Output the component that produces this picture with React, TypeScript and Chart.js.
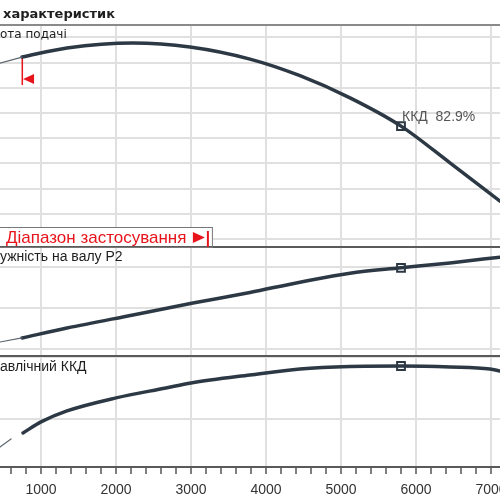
import React, { useEffect, useRef } from "react";
import { Chart, registerables } from "chart.js";

Chart.register(...registerables);

// ---------- data ----------
const X_MIN = 453;
const X_MAX = 7120;
const axisTicks = [600, 800, 1000, 1200, 1400, 1600, 1800, 2000, 2200, 2400, 2600, 2800, 3000, 3200, 3400, 3600, 3800, 4000, 4200, 4400, 4600, 4800, 5000, 5200, 5400, 5600, 5800, 6000, 6200, 6400, 6600, 6800, 7000];

const headGrid = [10, 15, 20, 25, 30, 35, 40, 45, 50];
const powerGrid = [20, 30, 40];
const effGrid = [40, 80];

const headThinQ = [453, 747];
const headThinH = [44.9, 46.1];
const headQ = [747, 1346, 2226, 2986, 3786, 4453, 5120, 5800, 6453, 7120];
const headH = [46.1, 47.9, 48.9, 48.1, 45.7, 42.4, 38.0, 32.4, 25.1, 17.5];

const powerThinQ = [453, 747];
const powerThinP = [21.7, 22.7];
const powerQ = [747, 1346, 2226, 3026, 3786, 4453, 5120, 5800, 6453, 7120];
const powerP = [22.7, 25.1, 28.3, 31.2, 33.8, 36.3, 38.5, 39.8, 41.0, 42.4];

const effThinQ = [453, 600];
const effThinE = [21.9, 27.1];
const effQ = [760, 1000, 1346, 2000, 2666, 3000, 3786, 4453, 5120, 5800, 6453, 6986, 7120];
const effE = [31.0, 38.1, 45.2, 53.6, 60.0, 63.2, 68.4, 72.3, 73.9, 74.2, 73.6, 72.3, 71.0];

const bepQ = 5800;
const bepHead = 32.4;
const bepPower = 39.8;
const bepEff = 74.2;
const bepLabel = "ККД  82.9%";

const rangeMinQ = 747;
const rangeMaxQ = 3225;
const rangeLabel = "Діапазон застосування";

const titleText = "характеристик";
const headLabel = "ота подачі";
const powerLabel = "ужність на валу P2";
const effLabel = "авлічний ККД";

// ---------- styles ----------
const CURVE = "#2c3945";
const THIN = "#5d6770";
const GRID = "#e0e0e0";
const RED = "#e8141c";
const DARK = "#5a5a5a";

const pts = (xs: number[], ys: number[]) => xs.map((x, i) => ({ x, y: ys[i] }));

const curve = (data: any, yAxisID: string, thin = false) => ({
  type: "line" as const,
  data,
  xAxisID: "x",
  yAxisID,
  borderColor: thin ? THIN : CURVE,
  borderWidth: thin ? 1.2 : 3.5,
  pointRadius: 0,
  pointHoverRadius: 0,
  cubicInterpolationMode: "monotone" as const,
  fill: false,
  borderCapStyle: "round" as const,
});

const marker = (y: number, yAxisID: string) => ({
  type: "line" as const,
  data: [{ x: bepQ, y }],
  xAxisID: "x",
  yAxisID,
  showLine: false,
  pointStyle: "rect" as const,
  pointRadius: 5.5,
  pointBorderWidth: 2,
  pointBackgroundColor: "#ffffff",
  pointBorderColor: CURVE,
});

const yScale = (min: number, max: number, grid: number[], weight: number, stackWeight: number) => ({
  type: "linear" as const,
  position: "left" as const,
  stack: "panels",
  stackWeight,
  weight,
  min,
  max,
  afterBuildTicks: (s: any) => {
    s.ticks = grid.map((v) => ({ value: v }));
  },
  afterFit: (s: any) => {
    s.width = 0;
  },
  grid: { color: GRID, lineWidth: 2, drawTicks: false },
  border: { display: false },
  ticks: { display: false },
});

const decorPlugin = {
  id: "decor",
  beforeDatasetsDraw(chart: any) {
    const ctx = chart.ctx;
    const { left, right } = chart.chartArea;
    const x = chart.scales.x;
    const yH = chart.scales.yH;
    const yP = chart.scales.yP;
    ctx.save();
    // title underline
    ctx.strokeStyle = "#8a8a8a";
    ctx.lineWidth = 2;
    ctx.beginPath();
    ctx.moveTo(left, yH.top);
    ctx.lineTo(right, yH.top);
    ctx.stroke();
    // panel separators
    ctx.strokeStyle = DARK;
    ctx.beginPath();
    ctx.moveTo(left, yH.bottom);
    ctx.lineTo(right, yH.bottom);
    ctx.moveTo(left, yP.bottom);
    ctx.lineTo(right, yP.bottom);
    ctx.stroke();

    // application range box
    const rx = x.getPixelForValue(rangeMaxQ);
    const boxTop = yH.bottom - 20;
    ctx.fillStyle = "#ffffff";
    ctx.fillRect(left - 2, boxTop, rx + 5 - left + 2, yH.bottom - boxTop - 1);
    ctx.strokeStyle = "#777";
    ctx.lineWidth = 1;
    ctx.strokeRect(left - 2.5, boxTop + 0.5, rx + 5 - left + 2, yH.bottom - boxTop);
    ctx.fillStyle = RED;
    ctx.font = "17px 'Liberation Sans', Arial, sans-serif";
    ctx.textBaseline = "alphabetic";
    ctx.textAlign = "left";
    ctx.fillText(rangeLabel, left + 6, yH.bottom - 4);
    ctx.beginPath();
    ctx.moveTo(rx - 15, boxTop + 5);
    ctx.lineTo(rx - 15, boxTop + 16);
    ctx.lineTo(rx - 3, boxTop + 10.5);
    ctx.closePath();
    ctx.fill();
    ctx.fillRect(rx - 1, boxTop + 4, 2, yH.bottom - boxTop - 4);

    // left range marker
    const lx = x.getPixelForValue(rangeMinQ);
    const ly = yH.getPixelForValue(headThinH[headThinH.length - 1]);
    ctx.fillRect(lx - 0.5, ly, 1.5, 28);
    ctx.beginPath();
    ctx.moveTo(lx + 1, ly + 22);
    ctx.lineTo(lx + 12, ly + 17);
    ctx.lineTo(lx + 12, ly + 27);
    ctx.closePath();
    ctx.fill();
    ctx.restore();
  },
  afterDraw(chart: any) {
    const ctx = chart.ctx;
    const { left } = chart.chartArea;
    const x = chart.scales.x;
    const yH = chart.scales.yH;
    const yP = chart.scales.yP;
    const yE = chart.scales.yE;
    ctx.save();
    ctx.textAlign = "left";
    ctx.textBaseline = "alphabetic";
    ctx.fillStyle = "#1e1e1e";
    ctx.font = "bold 13px 'DejaVu Sans', Verdana, sans-serif";
    ctx.fillText(titleText, left + 3, yH.top - 7);
    ctx.font = "12px 'DejaVu Sans', Verdana, sans-serif";
    ctx.fillText(headLabel, left, yH.top + 13);
    ctx.font = "14px 'Liberation Sans', Arial, sans-serif";
    ctx.fillText(powerLabel, left, yP.top + 14);
    ctx.fillText(effLabel, left, yE.top + 15);
    ctx.fillStyle = "#555";
    ctx.fillText(bepLabel, x.getPixelForValue(bepQ) + 1, yH.getPixelForValue(bepHead) - 5);
    ctx.restore();
  },
};

export default function App() {
  const ref = useRef<HTMLCanvasElement>(null);
  useEffect(() => {
    document.body.style.margin = "0";
    const chart = new Chart(ref.current as HTMLCanvasElement, {
      type: "line",
      data: {
        datasets: [
          curve(pts(headThinQ, headThinH), "yH", true),
          curve(pts(headQ, headH), "yH"),
          marker(bepHead, "yH"),
          curve(pts(powerThinQ, powerThinP), "yP", true),
          curve(pts(powerQ, powerP), "yP"),
          marker(bepPower, "yP"),
          curve(pts(effThinQ, effThinE), "yE", true),
          curve(pts(effQ, effE), "yE"),
          marker(bepEff, "yE"),
        ] as any,
      },
      options: {
        responsive: false,
        animation: false,
        layout: { autoPadding: false, padding: { top: 25, left: 0, right: 0, bottom: 0 } },
        plugins: { legend: { display: false }, tooltip: { enabled: false }, title: { display: false } },
        scales: {
          x: {
            type: "linear",
            position: "bottom",
            min: X_MIN,
            max: X_MAX,
            afterBuildTicks: (s: any) => {
              s.ticks = axisTicks.map((v) => ({ value: v }));
            },
            afterFit: (s: any) => {
              s.height = 33;
              s.paddingLeft = 0;
              s.paddingRight = 0;
            },
            grid: {
              color: (c: any) => (c.tick && c.tick.value % 1000 === 0 ? GRID : "rgba(0,0,0,0)"),
              lineWidth: 2,
              drawTicks: true,
              tickLength: 7,
              tickColor: "#555",
              tickWidth: 1.5,
            },
            border: { display: true, color: DARK, width: 2 },
            ticks: {
              autoSkip: false,
              maxRotation: 0,
              padding: 8,
              color: "#333",
              font: { family: "'Liberation Sans', Arial, sans-serif", size: 14 },
              callback: (v: any) => (Number(v) % 1000 === 0 ? String(v) : ""),
            },
          },
          yE: yScale(9.0, 80.65, effGrid, 1, 111),
          yP: yScale(18.29, 44.88, powerGrid, 2, 109),
          yH: yScale(8.41, 52.46, headGrid, 3, 222),
        } as any,
      },
      plugins: [decorPlugin],
    });
    return () => chart.destroy();
  }, []);
  return (
    <div style={{ position: "fixed", left: 0, top: 0, width: 500, height: 500, background: "#fff", overflow: "hidden" }}>
      <canvas ref={ref} width={500} height={500} style={{ width: 500, height: 500, display: "block" }} />
    </div>
  );
}
